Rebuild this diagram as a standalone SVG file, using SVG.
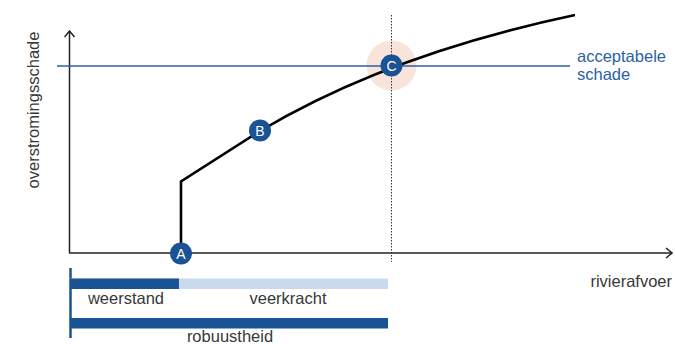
<svg xmlns="http://www.w3.org/2000/svg" width="675" height="344" viewBox="0 0 675 344">
  <defs>
    <style>
      .lbl { font-family: "Liberation Sans", Arial, sans-serif; font-size: 16.5px; fill: #383838; }
      .blue { fill: #2a62a6; }
      .axis { stroke: #222222; stroke-width: 1.5; fill: none; }
      .pt circle { fill: #1a5296; }
      .pt text { font-family: "Liberation Sans", Arial, sans-serif; font-size: 14px; fill: #ffffff; text-anchor: middle; }
    </style>
    <marker id="arrow" viewBox="0 0 12 12" refX="11" refY="6" markerWidth="12" markerHeight="12" markerUnits="userSpaceOnUse" orient="auto">
      <path d="M5,1 L11,6 L5,11" fill="none" stroke="#222222" stroke-width="1.5"/>
    </marker>
  </defs>

  <!-- axes -->
  <g id="axes">
    <line class="axis" x1="69.5" y1="253" x2="69.5" y2="31" marker-end="url(#arrow)"/>
    <line class="axis" x1="69" y1="253" x2="672" y2="253" marker-end="url(#arrow)"/>
    <text class="lbl" transform="translate(39,110) rotate(-90)" text-anchor="middle">overstromingsschade</text>
    <text class="lbl" x="672" y="287" text-anchor="end">rivierafvoer</text>
  </g>

  <!-- acceptable damage threshold -->
  <g id="threshold">
    <circle cx="391.5" cy="65.5" r="25" fill="#f8e4da"/>
    <line x1="57" y1="66" x2="570" y2="66" stroke="#2a62a6" stroke-width="1.3"/>
    <line x1="391.5" y1="15" x2="391.5" y2="262" stroke="#333333" stroke-width="1" stroke-dasharray="1.5 1.5"/>
    <text class="lbl blue" x="577" y="62">acceptabele</text>
    <text class="lbl blue" x="577" y="80">schade</text>
  </g>

  <!-- damage curve -->
  <g id="connectors">
    <path d="M181,253 V181.5 L260,131 C342,82 447,42 575,15" fill="none" stroke="#000000" stroke-width="2.6" stroke-linejoin="miter"/>
  </g>

  <g id="pointA" class="pt">
    <circle cx="181" cy="253.5" r="11"/>
    <text x="181" y="258.5">A</text>
  </g>
  <g id="pointB" class="pt">
    <circle cx="260" cy="130.5" r="11"/>
    <text x="260" y="135.5">B</text>
  </g>
  <g id="pointC" class="pt">
    <circle cx="391.5" cy="65.5" r="11"/>
    <text x="391.5" y="70.5">C</text>
  </g>

  <!-- resistance / resilience / robustness bars -->
  <g id="bars">
    <line x1="70.5" y1="268" x2="70.5" y2="338" stroke="#1a5296" stroke-width="2.5"/>
    <rect x="70" y="278.5" width="318" height="10.5" fill="#cbd9ef"/>
    <rect x="70" y="278.5" width="109" height="10.5" fill="#1a5296"/>
    <rect x="70" y="318" width="318" height="10.5" fill="#1a5296"/>
    <text class="lbl" x="126" y="304" text-anchor="middle">weerstand</text>
    <text class="lbl" x="288" y="304" text-anchor="middle">veerkracht</text>
    <text class="lbl" x="230" y="342" text-anchor="middle">robuustheid</text>
  </g>
</svg>
